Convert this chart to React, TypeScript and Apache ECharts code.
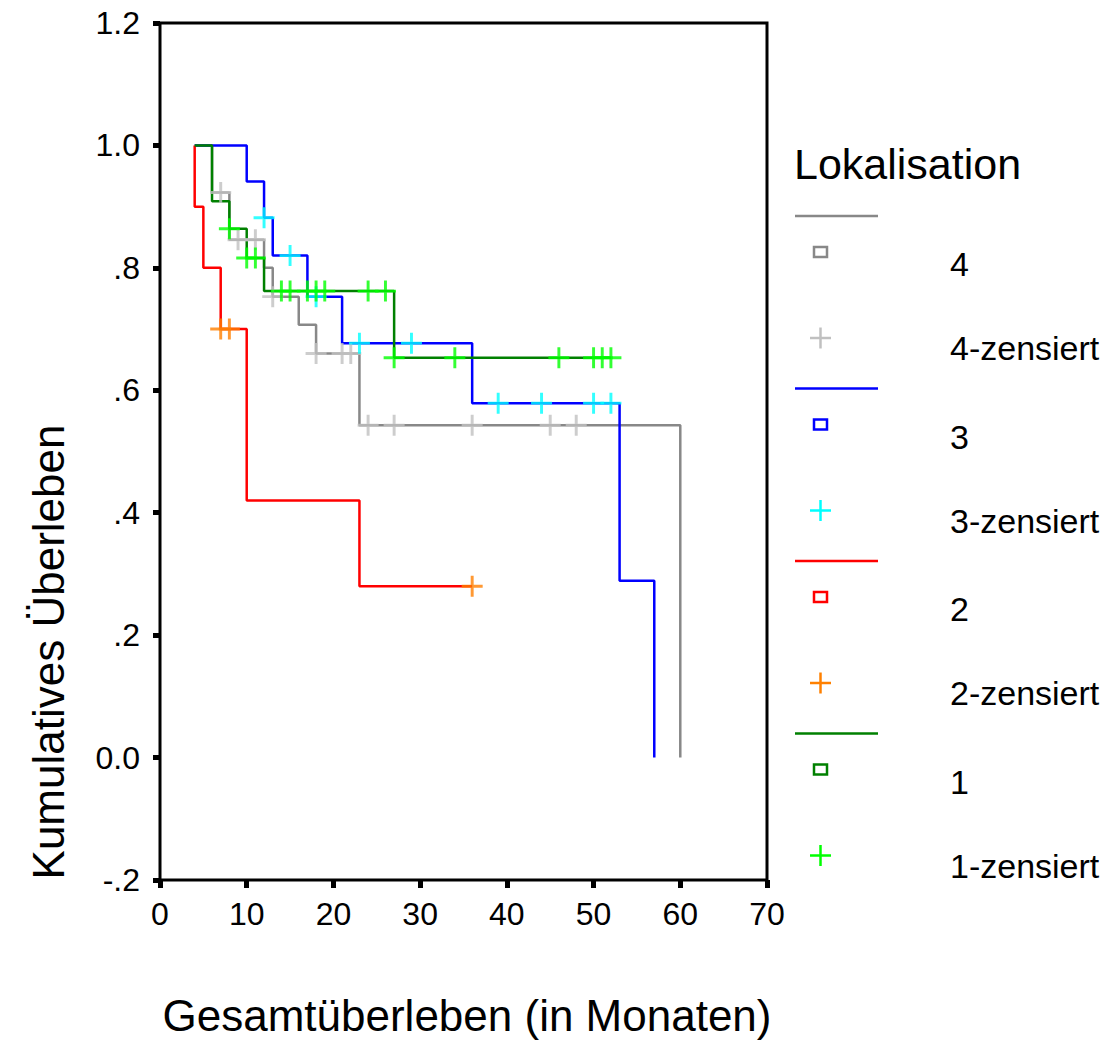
import React, { useEffect, useRef } from "react";
import * as echarts from "echarts";

// ---- data (months, cumulative survival) ----
const xTicks = [0, 10, 20, 30, 40, 50, 60, 70];
const yTickLabels = ["-.2", "0.0", ".2", ".4", ".6", ".8", "1.0", "1.2"];

const g4StepT = [4, 6, 8, 12, 13, 16, 18, 23, 60];
const g4StepS = [1.0, 0.923, 0.846, 0.8, 0.753, 0.707, 0.66, 0.543, 0.0];
const g4CensT = [7, 9, 11, 13, 18, 21, 22, 24, 27, 36, 45, 48];
const g4CensS = [0.923, 0.846, 0.846, 0.753, 0.66, 0.66, 0.66, 0.543, 0.543, 0.543, 0.543, 0.543];

const g3StepT = [4, 10, 12, 13, 17, 21, 36, 53, 57];
const g3StepS = [1.0, 0.941, 0.882, 0.82, 0.753, 0.677, 0.579, 0.289, 0.0];
const g3CensT = [12, 15, 18, 23, 29, 39, 44, 50, 52];
const g3CensS = [0.882, 0.82, 0.753, 0.677, 0.677, 0.579, 0.579, 0.579, 0.579];

const g2StepT = [4, 4, 5, 7, 10, 23, 36];
const g2StepS = [1.0, 0.9, 0.8, 0.7, 0.42, 0.28, 0.28];
const g2CensT = [7, 8, 36];
const g2CensS = [0.7, 0.7, 0.28];

const g1StepT = [4, 6, 8, 10, 12, 27, 52];
const g1StepS = [1.0, 0.909, 0.864, 0.816, 0.762, 0.653, 0.653];
const g1CensT = [8, 10, 11, 14, 15, 17, 18, 19, 24, 26, 27, 34, 46, 50, 51, 52];
const g1CensS = [0.864, 0.816, 0.816, 0.762, 0.762, 0.762, 0.762, 0.762, 0.762, 0.762, 0.653, 0.653, 0.653, 0.653, 0.653, 0.653];

const groupNames = ["4", "3", "2", "1"];
const censSuffix = "-zensiert";
const legendTitle = "Lokalisation";
const xTitle = "Gesamtüberleben (in Monaten)";
const yTitle = "Kumulatives Überleben";

const lineColors = ["#888888", "#0000ff", "#ff0000", "#008000"];
const censColors = ["#c0c0c0", "#00ffff", "#ff8000", "#00ff00"];

const FONT = "Liberation Sans, Arial, sans-serif";
const PLUS = "path://M8.6,0H11.4V8.6H20V11.4H11.4V20H8.6V11.4H0V8.6H8.6Z";

function zip(a: number[], b: number[]) {
  return a.map((v, i) => [v, b[i]]);
}

export default function App() {
  const ref = useRef<HTMLDivElement>(null);
  useEffect(() => {
    document.body.style.margin = "0";
    if (!ref.current) return;
    const chart = echarts.init(ref.current, undefined, { renderer: "svg" });

    const groups = [
      { st: g4StepT, ss: g4StepS, ct: g4CensT, cs: g4CensS },
      { st: g3StepT, ss: g3StepS, ct: g3CensT, cs: g3CensS },
      { st: g2StepT, ss: g2StepS, ct: g2CensT, cs: g2CensS },
      { st: g1StepT, ss: g1StepS, ct: g1CensT, cs: g1CensS },
    ];
    const series: any[] = [];
    groups.forEach((g, i) => {
      series.push({
        type: "line",
        name: groupNames[i],
        step: "end",
        data: zip(g.st, g.ss),
        showSymbol: false,
        symbol: "none",
        lineStyle: { color: lineColors[i], width: 2.5 },
        z: 2,
      });
      series.push({
        type: "scatter",
        name: groupNames[i] + censSuffix,
        data: zip(g.ct, g.cs),
        symbol: PLUS,
        symbolSize: 21,
        itemStyle: { color: censColors[i] },
        z: 2,
      });
    });

    const graphics: any[] = [];
    graphics.push({
      type: "text",
      left: 794,
      top: 142,
      style: { text: legendTitle, font: `43px ${FONT}`, fill: "#000" },
    });
    groupNames.forEach((name, i) => {
      const base = 216 + i * 172.5;
      graphics.push({
        type: "line",
        shape: { x1: 795, y1: base, x2: 878, y2: base },
        style: { stroke: lineColors[i], lineWidth: 2.5 },
      });
      graphics.push({
        type: "rect",
        shape: { x: 814, y: base + 31, width: 13, height: 10 },
        style: { stroke: lineColors[i], fill: "none", lineWidth: 2.5 },
      });
      graphics.push({
        type: "line",
        shape: { x1: 810, y1: base + 122, x2: 831, y2: base + 122 },
        style: { stroke: censColors[i], lineWidth: 2.5 },
      });
      graphics.push({
        type: "line",
        shape: { x1: 820.5, y1: base + 111.5, x2: 820.5, y2: base + 132.5 },
        style: { stroke: censColors[i], lineWidth: 2.5 },
      });
      graphics.push({
        type: "text",
        left: 950,
        top: base + 31,
        style: { text: name, font: `34px ${FONT}`, fill: "#000" },
      });
      graphics.push({
        type: "text",
        left: 950,
        top: base + 115,
        style: { text: name + censSuffix, font: `34px ${FONT}`, fill: "#000" },
      });
    });
    graphics.push({
      type: "text",
      x: 48,
      y: 652,
      rotation: Math.PI / 2,
      style: {
        text: yTitle,
        font: `44px ${FONT}`,
        fill: "#000",
        align: "center",
        verticalAlign: "middle",
      },
    });
    graphics.push({
      type: "text",
      x: 467,
      y: 1015,
      style: {
        text: xTitle,
        font: `44px ${FONT}`,
        fill: "#000",
        align: "center",
        verticalAlign: "middle",
      },
    });

    chart.setOption({
      animation: false,
      backgroundColor: "#fff",
      grid: {
        left: 160,
        top: 23,
        width: 607,
        height: 857,
        show: true,
        borderColor: "#000",
        borderWidth: 3,
        backgroundColor: "transparent",
      },
      xAxis: {
        type: "value",
        min: xTicks[0],
        max: xTicks[xTicks.length - 1],
        interval: 10,
        axisLine: { show: false, onZero: false },
        axisTick: { show: true, length: 8, lineStyle: { color: "#000", width: 5 } },
        splitLine: { show: false },
        axisLabel: { color: "#000", fontFamily: FONT, fontSize: 32, margin: 18 },
      },
      yAxis: {
        type: "value",
        min: -0.2,
        max: 1.2,
        interval: 0.2,
        axisLine: { show: false, onZero: false },
        axisTick: { show: true, length: 7, lineStyle: { color: "#000", width: 5 } },
        splitLine: { show: false },
        axisLabel: {
          color: "#000",
          fontFamily: FONT,
          fontSize: 32,
          margin: 20,
          formatter: (v: number) => yTickLabels[Math.round((v + 0.2) / 0.2)] ?? "",
        },
      },
      series,
      graphic: graphics,
    });
    return () => chart.dispose();
  }, []);
  return <div ref={ref} style={{ width: 1115, height: 1041 }} />;
}
